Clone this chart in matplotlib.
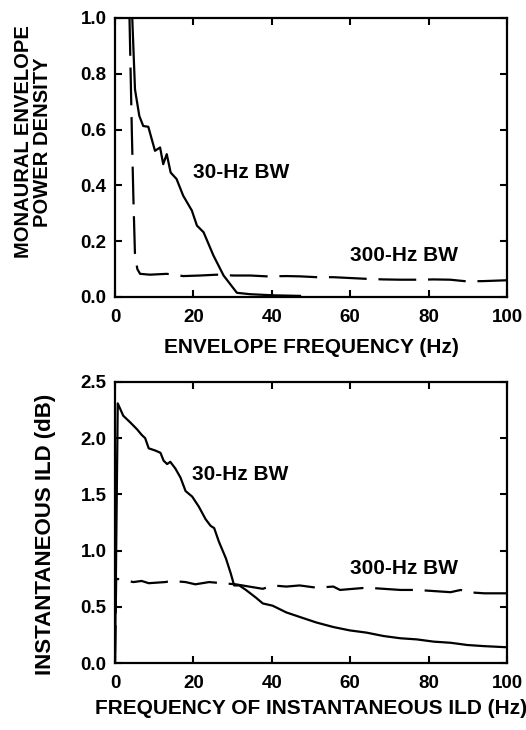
import matplotlib
matplotlib.use("Agg")
import matplotlib.pyplot as plt

plt.rcParams['font.family'] = ['Liberation Sans', 'DejaVu Sans']
plt.rcParams['font.weight'] = 'bold'
plt.rcParams['axes.labelweight'] = 'bold'
plt.rcParams['font.size'] = 13

# ---- Top panel data: monaural envelope power density ----
top_bw30_x = [4.4, 5.1, 6.2, 7.2, 8.5, 10.2, 11.5, 12.3, 13.2, 14.2, 15.7, 17.4, 19.6,
              20.9, 22.6, 25.1, 27.7, 31.1, 34.5, 40.4, 47.2]
top_bw30_y = [1.0, 0.744, 0.649, 0.613, 0.61, 0.524, 0.536, 0.476, 0.512, 0.446, 0.423,
              0.363, 0.31, 0.256, 0.232, 0.149, 0.077, 0.015, 0.01, 0.006, 0.004]

top_bw300_x = [3.7, 4.3, 4.7, 5.1, 5.7, 6.4, 8.9, 13.2, 17.4, 21.7, 26.0, 30.2, 34.5,
               38.7, 43.8, 47.2, 51.5, 55.7, 60.0, 64.3, 68.5, 72.8, 77.0, 81.3, 85.5,
               89.8, 94.0, 100.0]
top_bw300_y = [1.0, 0.59, 0.35, 0.15, 0.10, 0.083, 0.080, 0.083, 0.075, 0.077, 0.080,
               0.077, 0.077, 0.074, 0.075, 0.074, 0.071, 0.071, 0.068, 0.065, 0.063,
               0.062, 0.062, 0.063, 0.062, 0.056, 0.057, 0.060]

# ---- Bottom panel data: instantaneous ILD ----
bot_bw30_x = [0.0, 0.7, 2.1, 3.9, 5.6, 6.8, 7.7, 8.6, 10.3, 11.6, 12.4, 13.3, 14.1, 15.4,
              16.7, 18.0, 19.7, 21.4, 23.1, 24.4, 25.3, 26.5, 28.3, 29.5, 30.4, 31.7,
              33.4, 36.0, 37.7, 40.2, 43.7, 47.1, 51.4, 55.7, 59.9, 64.2, 68.5, 72.8,
              77.0, 81.3, 85.6, 89.9, 94.2, 100.0]
bot_bw30_y = [0.0, 2.31, 2.2, 2.14, 2.08, 2.03, 2.0, 1.91, 1.89, 1.87, 1.8, 1.77, 1.79,
              1.73, 1.65, 1.53, 1.48, 1.39, 1.28, 1.22, 1.2, 1.08, 0.93, 0.8, 0.69, 0.69,
              0.65, 0.58, 0.53, 0.51, 0.45, 0.41, 0.36, 0.32, 0.29, 0.27, 0.24, 0.22,
              0.21, 0.19, 0.18, 0.16, 0.15, 0.14]

bot_bw300_x = [0.0, 0.3, 4.7, 6.8, 8.6, 12.8, 14.5, 18.0, 20.5, 24.0, 27.4, 30.8, 34.2,
               37.7, 40.2, 43.7, 47.1, 51.4, 55.7, 57.4, 60.8, 64.2, 68.5, 72.8, 77.0,
               81.3, 85.6, 88.2, 89.9, 94.2, 100.0]
bot_bw300_y = [0.0, 0.75, 0.72, 0.73, 0.71, 0.72, 0.73, 0.72, 0.70, 0.72, 0.71, 0.70,
               0.68, 0.66, 0.69, 0.68, 0.69, 0.67, 0.68, 0.65, 0.66, 0.67, 0.66, 0.65,
               0.65, 0.64, 0.63, 0.65, 0.63, 0.62, 0.62]

x_ticks = [0, 20, 40, 60, 80, 100]
top_yticks = [0.0, 0.2, 0.4, 0.6, 0.8, 1.0]
bot_yticks = [0.0, 0.5, 1.0, 1.5, 2.0, 2.5]

W, H = 526, 730
fig = plt.figure(figsize=(W / 100, H / 100), dpi=100)

def px_axes(l, t, r, b):
    return fig.add_axes([l / W, 1 - b / H, (r - l) / W, (b - t) / H])

ax1 = px_axes(115, 18, 507, 297)
ax2 = px_axes(115, 382, 507, 663)

DASH = (0, (17, 5.3))
LW = 1.6
LABEL_FS = 15
TICK_FS = 13.5

ax1.plot(top_bw30_x, top_bw30_y, color='black', lw=LW)
ax1.plot(top_bw300_x, top_bw300_y, color='black', lw=LW, linestyle=DASH)
ax2.plot(bot_bw30_x, bot_bw30_y, color='black', lw=LW)
ax2.plot(bot_bw300_x, bot_bw300_y, color='black', lw=LW, linestyle=DASH)

ax1.text(20, 0.446, '30-Hz BW', va='center', ha='left', fontsize=LABEL_FS, fontweight='bold')
ax1.text(60, 0.149, '300-Hz BW', va='center', ha='left', fontsize=LABEL_FS, fontweight='bold')
ax2.text(19.7, 1.68, '30-Hz BW', va='center', ha='left', fontsize=LABEL_FS, fontweight='bold')
ax2.text(59.9, 0.84, '300-Hz BW', va='center', ha='left', fontsize=LABEL_FS, fontweight='bold')

for ax, yt, ylim in [(ax1, top_yticks, (0, 1.0)), (ax2, bot_yticks, (0, 2.5))]:
    ax.set_xlim(0, 100)
    ax.set_ylim(*ylim)
    ax.set_xticks(x_ticks)
    ax.set_xticklabels([str(v) for v in x_ticks], fontweight='bold')
    ax.set_yticks(yt)
    ax.set_yticklabels(['%.1f' % v for v in yt], fontweight='bold')
    ax.tick_params(direction='in', length=5, width=1.5, top=True, right=True,
                   labelsize=TICK_FS)
    ax.tick_params(axis='x', pad=9)
    ax.tick_params(axis='y', pad=6)
    for s in ax.spines.values():
        s.set_linewidth(1.6)

ax1.set_xlabel('ENVELOPE FREQUENCY (Hz)', fontsize=LABEL_FS, fontweight='bold', labelpad=8)
ax2.set_xlabel('FREQUENCY OF INSTANTANEOUS ILD (Hz)', fontsize=LABEL_FS, fontweight='bold',
               labelpad=5)

fig.text(33 / W, 1 - 142 / H, 'MONAURAL ENVELOPE\nPOWER DENSITY', rotation=90,
         ha='center', va='center', fontsize=14.5, fontweight='bold', linespacing=0.95,
         multialignment='center')
fig.text(46 / W, 1 - 534 / H, 'INSTANTANEOUS ILD (dB)', rotation=90,
         ha='center', va='center', fontsize=16, fontweight='bold')

fig.savefig('out.png', dpi=100)
